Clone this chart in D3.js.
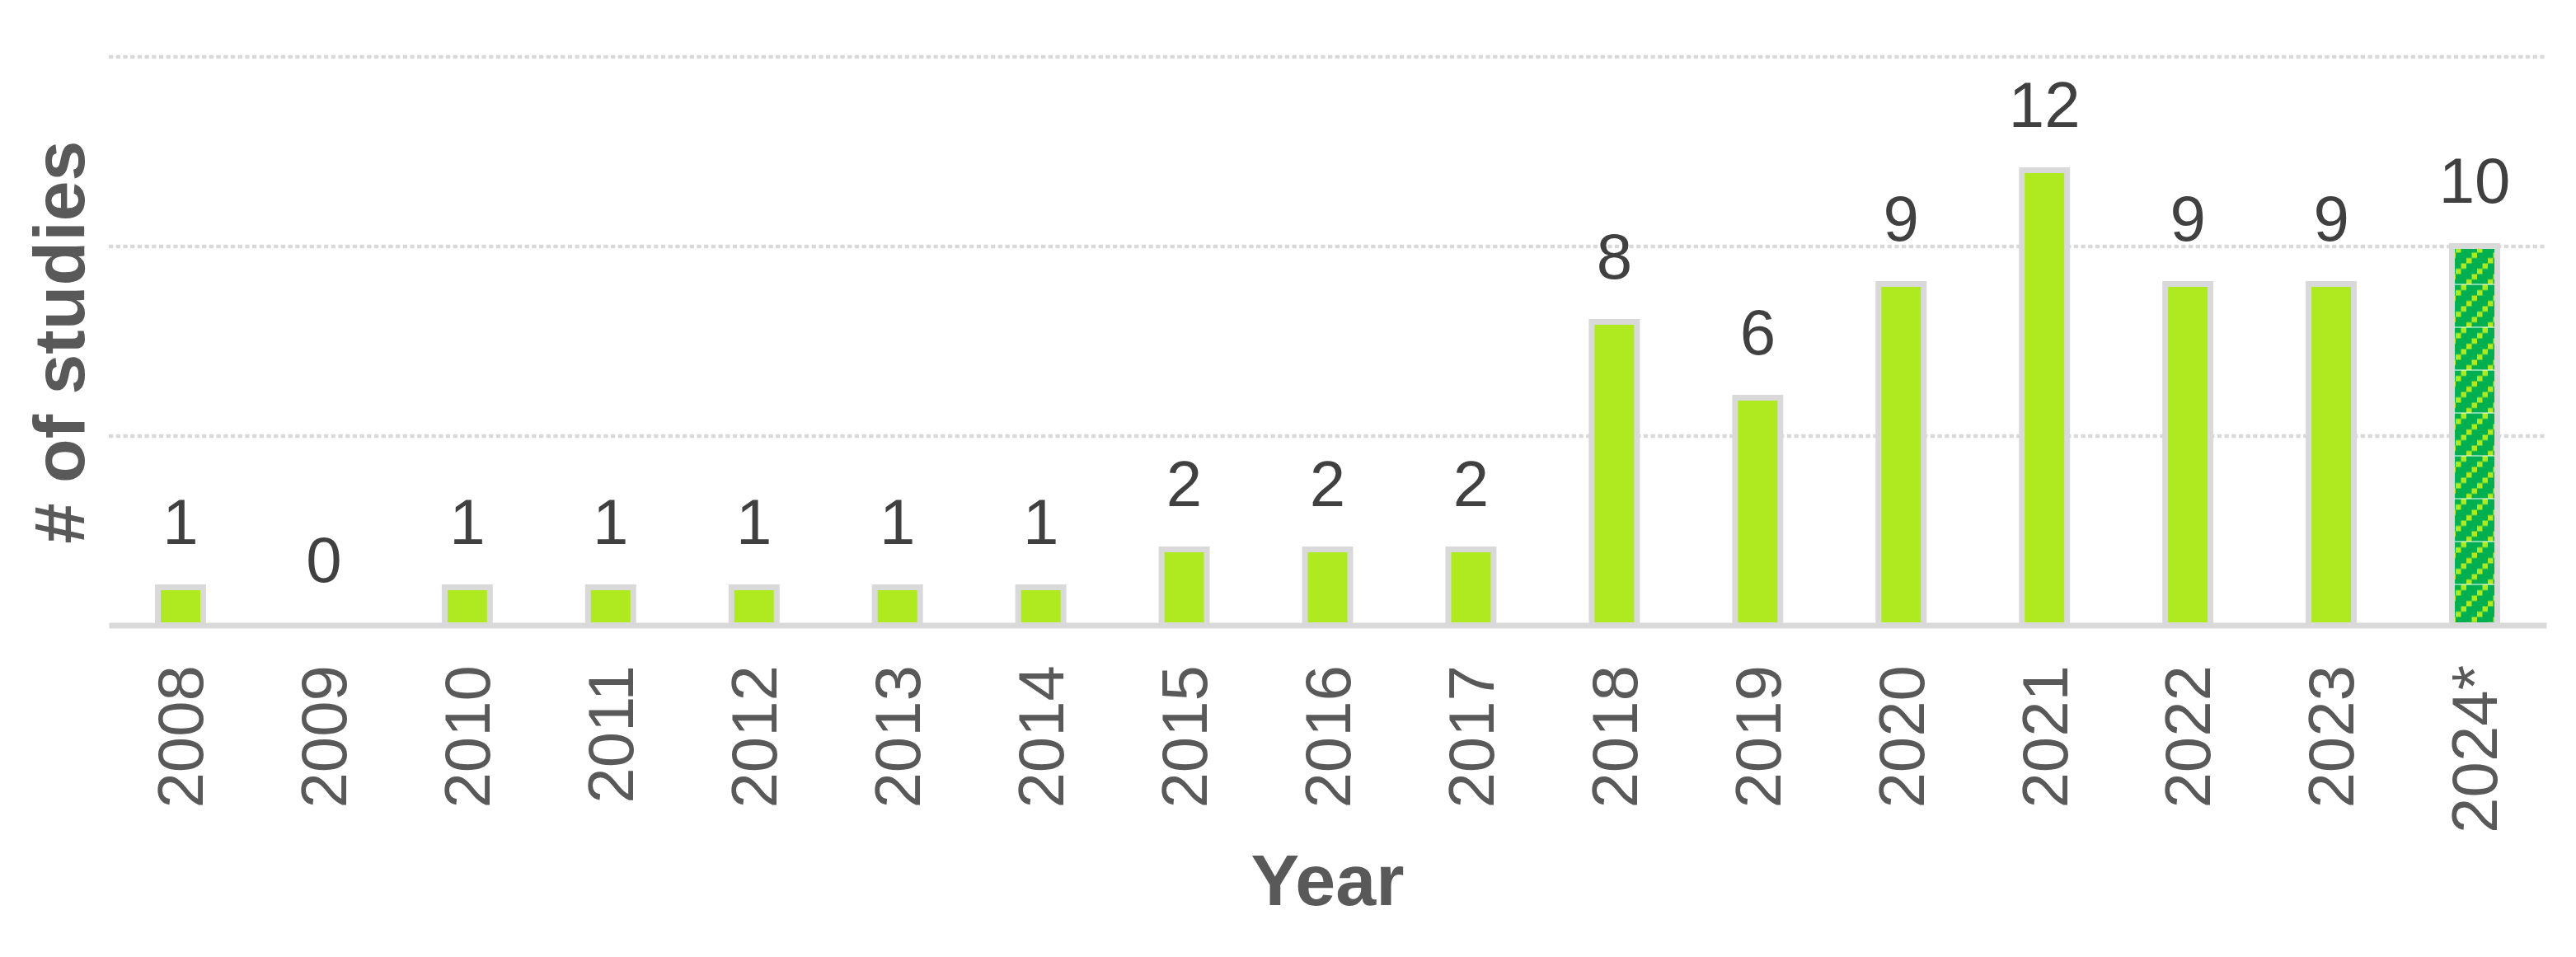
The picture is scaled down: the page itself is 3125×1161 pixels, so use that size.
<!DOCTYPE html>
<html>
<head>
<meta charset="utf-8">
<script src="https://cdn.jsdelivr.net/npm/d3@7"></script>
<style>
  html, body { margin: 0; padding: 0; background: #fff; }
  svg { display: block; font-family: Arial, "Liberation Sans", sans-serif; }
</style>
</head>
<body>
<svg id="chart" width="3125" height="1161"></svg>
<script>
// year categories ("*" = partial year)
var years = ["2008", "2009", "2010", "2011", "2012", "2013", "2014", "2015", "2016",
             "2017", "2018", "2019", "2020", "2021", "2022", "2023", "2024*"];
var studies = [1, 0, 1, 1, 1, 1, 1, 2, 2, 2, 8, 6, 9, 12, 9, 9, 10];
var gridValues = [5, 10, 15];

var createBarChart = function(parent) {
    var svg = d3.select(parent);
    var margin = {top: 68.5, right: 36, bottom: 402.5, left: 132};
    var width = +svg.attr("width") - margin.left - margin.right;
    var height = +svg.attr("height") - margin.top - margin.bottom;

    var data = years.map(function(y, i) { return {year: y, value: studies[i]}; });

    // pattern for the partial year bar
    var defs = svg.append("defs");
    var pat = defs.append("pattern")
        .attr("id", "partial")
        .attr("patternUnits", "userSpaceOnUse")
        .attr("x", 0).attr("y", 277)
        .attr("width", 26).attr("height", 52);
    pat.append("rect").attr("width", 26).attr("height", 52).attr("fill", "#00b050");
    [0, 26].forEach(function(off) {
        [[19.5, 0], [13, 6.5], [6.5, 13], [0, 19.5]].forEach(function(c) {
            pat.append("rect")
                .attr("x", c[0]).attr("y", c[1] + off)
                .attr("width", 6.5).attr("height", 6.5)
                .attr("fill", "#aeea1f");
        });
    });
    pat.append("rect").attr("x", 0).attr("y", 51).attr("width", 26).attr("height", 1).attr("fill", "#fff");

    var g = svg.append("g")
        .attr("transform", "translate(" + margin.left + "," + margin.top + ")");

    var x = d3.scaleBand()
        .domain(years)
        .range([0, width])
        .paddingInner(0.684)
        .paddingOuter(0.342);

    var y = d3.scaleLinear()
        .domain([0, 15])
        .range([height, 0]);

    // dotted gridlines
    g.append("g")
        .call(d3.axisLeft(y).tickValues(gridValues).tickSize(-width).tickFormat(""))
        .call(function(a) {
            a.select(".domain").remove();
            a.selectAll("line")
                .attr("stroke", "#d9d9d9")
                .attr("stroke-width", 4.5)
                .attr("stroke-dasharray", "5.3,3.4");
        });

    // bars
    g.selectAll(".bar")
        .data(data)
        .enter().append("rect")
        .attr("class", "bar")
        .attr("x", function(d) { return x(d.year); })
        .attr("y", function(d) { return y(d.value); })
        .attr("width", x.bandwidth())
        .attr("height", function(d) { return y(0) - y(d.value); })
        .attr("fill", function(d) { return d.year.slice(-1) === "*" ? "url(#partial)" : "#aeea1f"; })
        .attr("stroke", "#d9d9d9")
        .attr("stroke-width", 7);

    // value labels
    g.selectAll(".label")
        .data(data)
        .enter().append("text")
        .attr("class", "label")
        .attr("x", function(d) { return x(d.year) + x.bandwidth() / 2; })
        .attr("y", function(d) { return y(d.value) - 53; })
        .attr("text-anchor", "middle")
        .attr("font-size", 78)
        .attr("fill", "#404040")
        .text(function(d) { return d.value; });

    // x axis
    g.append("g")
        .attr("transform", "translate(0," + height + ")")
        .call(d3.axisBottom(x).tickSize(0).tickSizeOuter(0))
        .call(function(a) {
            a.select(".domain")
                .attr("stroke", "#d9d9d9")
                .attr("stroke-width", 7);
            a.selectAll("text")
                .attr("transform", "rotate(-90)")
                .attr("x", -48.5)
                .attr("y", 0)
                .attr("dy", "0.35em")
                .attr("text-anchor", "end")
                .attr("font-size", 78)
                .attr("font-family", "Arial, 'Liberation Sans', sans-serif")
                .attr("fill", "#595959");
        });

    // axis titles
    svg.append("text")
        .attr("x", margin.left + width / 2)
        .attr("y", 1098)
        .attr("text-anchor", "middle")
        .attr("font-size", 88)
        .attr("font-weight", "bold")
        .attr("fill", "#595959")
        .text("Year");

    svg.append("text")
        .attr("transform", "translate(102,415) rotate(-90)")
        .attr("text-anchor", "middle")
        .attr("font-size", 88)
        .attr("font-weight", "bold")
        .attr("fill", "#595959")
        .text("# of studies");
};

createBarChart("#chart");
</script>
</body>
</html>
